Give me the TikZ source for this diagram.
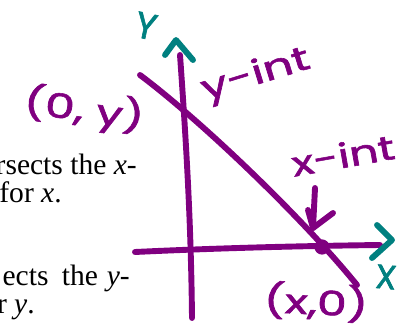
\documentclass[tikz,border=0pt]{standalone}
\usepackage{fontspec}
\setmainfont{Liberation Serif}
\newfontfamily\handfont{Poppins}[FakeBold=1.6]
\usetikzlibrary{positioning}
\definecolor{penpurple}{RGB}{128,0,128}
\definecolor{penteal}{RGB}{0,128,128}

\begin{document}
\begin{tikzpicture}[x=0.025cm, y=-0.025cm,
  pen/.style={penpurple, line width=4.2pt, line cap=round, line join=round},
  tealpen/.style={penteal, line width=4.2pt, line cap=round, line join=round},
  hand/.style={penpurple, font=\handfont\fontsize{24}{28}\selectfont, inner sep=0pt},
  book/.style={font=\fontsize{21}{25}\selectfont, anchor=base east, inner sep=0pt}]
  \useasboundingbox (0,0) rectangle (399,333);

  % Printed text, cut at the left edge
  \node[book] (line1) at (137,175) {rsects the \textit{x}-};
  \node[book] (line2) at (62,203) {for \textit{x}.};
  \node[book] (line3) at (130,285) {ects\hspace{0.45em}the\hspace{0.3em}\textit{y}-};
  \node[book] (line4) at (35,313) {r \textit{y}.};

  % Axes ends
  \coordinate (ytop) at (180,55);
  \coordinate (ybot) at (192,318);
  \coordinate (xleft) at (135,252);
  \coordinate (xright) at (380,245);

  % Axes
  \draw[pen] (ytop) .. controls (186,140) and (191,220) .. (ybot);
  \draw[pen] (xleft) .. controls (220,248) and (300,246) .. (xright);

  % Line through both intercepts
  \coordinate (lstart) at (140,75);
  \coordinate (lend) at (357,285);
  \draw[pen] (lstart) .. controls (200,120) and (300,215) .. (lend);

  % x-intercept dot
  \node[circle, fill=penpurple, minimum size=0.38cm, inner sep=0pt] (xdot) at (322,247) {};

  % Axis arrowheads
  \coordinate (ytip) at (176,40);
  \coordinate (xtip) at (392,240);
  \draw[tealpen] (165,55) -- (ytip) -- (193,60);
  \draw[tealpen] (377,225) -- (xtip) -- (372,258);

  % Axis letters
  \node[hand, penteal, font=\handfont\fontsize{26}{28}\selectfont, rotate=-12] (ylab) at (146,26) {Y};
  \node[hand, penteal, rotate=-5] (xlab) at (386,277) {X};

  % Handwritten labels
  \node[hand, rotate=-8] (ptylab) at (84,110) {\scalebox{1.4}[1]{(0, y)}};
  \node[hand, rotate=17] (yintlab) at (256,76) {\scalebox{1.4}[1]{y-int}};
  \node[hand, rotate=10] (xintlab) at (343,155) {\scalebox{1.35}[1]{x-int}};
  \node[hand, rotate=-3] (ptxlab) at (316,302) {\scalebox{1.4}[1]{(x,0)}};

  % Arrow from x-int label to the dot
  \coordinate (xarrow) at (315,188);
  \coordinate (xhead) at (313,228);
  \draw[pen] (xarrow) -- (xhead);
  \draw[pen] (308,210) -- (xhead) -- (333,213);
\end{tikzpicture}
\end{document}
